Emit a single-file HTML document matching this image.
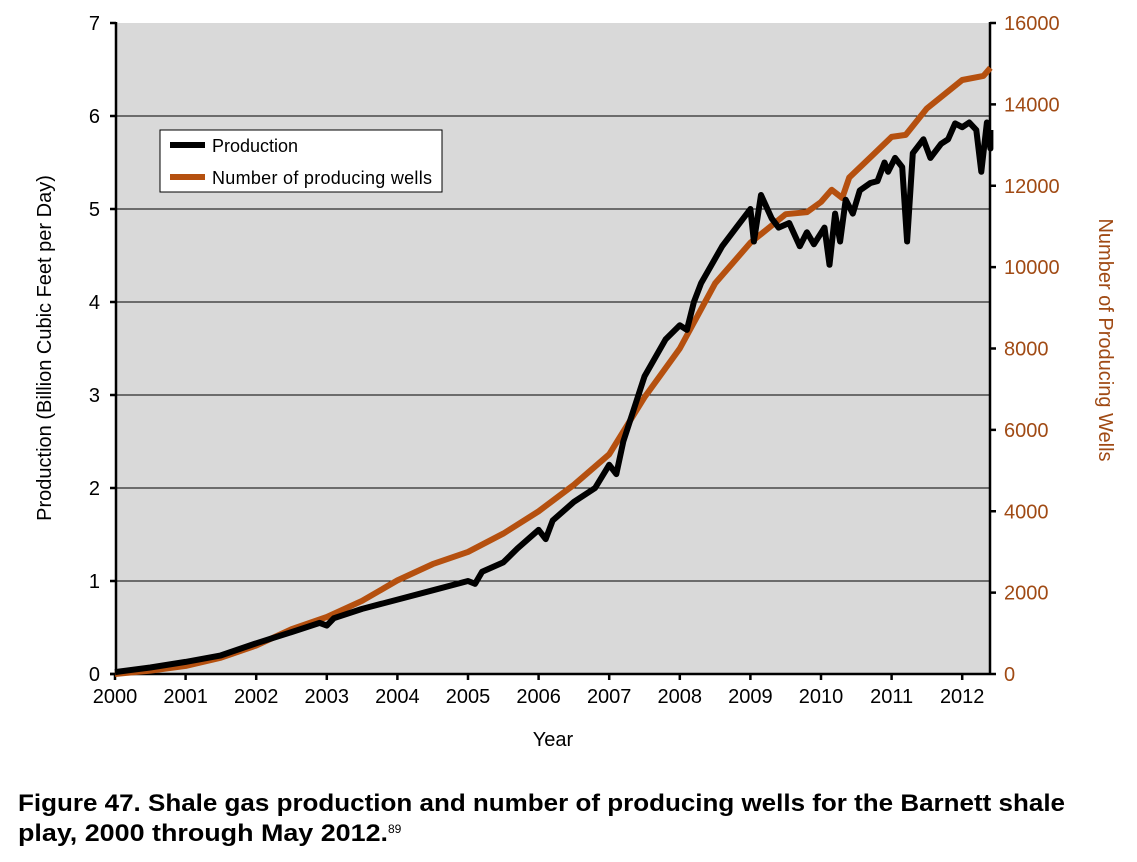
<!DOCTYPE html>
<html><head><meta charset="utf-8"><style>
body{margin:0;background:#fff;width:1137px;height:857px;overflow:hidden}
svg{font-family:"Liberation Sans",sans-serif}
</style></head><body>
<svg id="s" width="1137" height="857" xmlns="http://www.w3.org/2000/svg">
<rect x="116" y="23" width="874" height="651" fill="#d9d9d9"/>
<g id="grid" stroke="#000" stroke-width="1"></g>
<g id="ax" stroke="#000" stroke-width="2.5" fill="none">
<line x1="116" y1="22" x2="116" y2="675"/>
<line x1="990" y1="22" x2="990" y2="675"/>
<line x1="110" y1="674" x2="990" y2="674"/>
</g>
<path id="wells" fill="none" stroke="#b5500f" stroke-width="6" stroke-linejoin="round"/>
<path id="prod" fill="none" stroke="#000" stroke-width="6" stroke-linejoin="round"/>
<g id="lab" font-size="20"></g>
<text transform="translate(51,348) rotate(-90)" font-size="20" text-anchor="middle">Production (Billion Cubic Feet per Day)</text>
<text transform="translate(1099,340) rotate(90)" font-size="20" text-anchor="middle" fill="#a04a14">Number of Producing Wells</text>
<text x="553" y="746" font-size="20" text-anchor="middle">Year</text>
<rect x="160" y="130" width="282" height="62" fill="#fff" stroke="#000" stroke-width="1"/>
<line x1="170" y1="145" x2="205" y2="145" stroke="#000" stroke-width="6"/>
<text x="212" y="152" font-size="18">Production</text>
<line x1="170" y1="177" x2="205" y2="177" stroke="#b5500f" stroke-width="6"/>
<text x="212" y="184" font-size="18" textLength="220">Number of producing wells</text>
<text x="18" y="811" font-size="24" font-weight="bold" textLength="1047" lengthAdjust="spacingAndGlyphs">Figure 47. Shale gas production and number of producing wells for the Barnett shale</text>
<text x="18" y="841" font-size="24" font-weight="bold"><tspan textLength="370" lengthAdjust="spacingAndGlyphs">play, 2000 through May 2012.</tspan><tspan font-size="12" font-weight="normal" dy="-8">89</tspan></text>
</svg>
<script>
var X=t=>115+70.6*(t-2000),Y=v=>674-93*v,W=w=>674-w*651/16000;
var g=document.getElementById('grid'),l=document.getElementById('lab'),a=document.getElementById('ax'),h='',lh='',ah='';
for(var i=1;i<7;i++)h+='<line x1="116" x2="990" y1="'+Y(i)+'" y2="'+Y(i)+'"/>';
g.innerHTML=h;
for(i=0;i<=7;i++){lh+='<text x="100" y="'+(Y(i)+7)+'" text-anchor="end">'+i+'</text>';ah+='<line x1="110" x2="116" y1="'+Y(i)+'" y2="'+Y(i)+'"/>';}
for(i=0;i<=16000;i+=2000){lh+='<text x="1004" y="'+(W(i)+7)+'" fill="#a04a14">'+i+'</text>';ah+='<line x1="990" x2="996" y1="'+W(i)+'" y2="'+W(i)+'"/>';}
for(i=0;i<=12;i++){lh+='<text x="'+X(2000+i)+'" y="703" text-anchor="middle">'+(2000+i)+'</text>';ah+='<line y1="674" y2="680" x1="'+X(2000+i)+'" x2="'+X(2000+i)+'"/>';}
l.innerHTML=lh;a.innerHTML+=ah;
var P=[[2000,0.02],[2000.5,0.07],[2001,0.13],[2001.5,0.2],[2002,0.33],[2002.5,0.45],[2002.9,0.55],[2003,0.52],[2003.1,0.6],[2003.5,0.7],[2004,0.8],[2004.5,0.9],[2005,1.0],[2005.1,0.97],[2005.2,1.1],[2005.5,1.2],[2005.7,1.35],[2006,1.55],[2006.1,1.45],[2006.2,1.65],[2006.5,1.85],[2006.8,2.0],[2007,2.25],[2007.1,2.15],[2007.2,2.5],[2007.5,3.2],[2007.8,3.6],[2008,3.75],[2008.1,3.7],[2008.2,4.0],[2008.3,4.2],[2008.6,4.6],[2008.8,4.8],[2009,5.0],[2009.05,4.65],[2009.15,5.15],[2009.3,4.9],[2009.4,4.8],[2009.55,4.85],[2009.7,4.6],[2009.8,4.75],[2009.9,4.62],[2010.05,4.8],[2010.12,4.4],[2010.2,4.95],[2010.27,4.65],[2010.35,5.1],[2010.45,4.95],[2010.55,5.2],[2010.7,5.28],[2010.8,5.3],[2010.9,5.5],[2010.95,5.4],[2011.05,5.55],[2011.15,5.45],[2011.22,4.65],[2011.3,5.6],[2011.45,5.75],[2011.55,5.55],[2011.7,5.7],[2011.8,5.75],[2011.9,5.92],[2012.0,5.88],[2012.1,5.93],[2012.2,5.85],[2012.27,5.4],[2012.35,5.93],[2012.42,5.65],[2012.5,5.85]];
var Wd=[[2000,0],[2000.5,80],[2001,200],[2001.5,400],[2002,700],[2002.5,1100],[2003,1400],[2003.5,1800],[2004,2300],[2004.5,2700],[2005,3000],[2005.5,3450],[2006,4000],[2006.5,4650],[2007,5400],[2007.5,6800],[2008,8000],[2008.5,9600],[2009,10600],[2009.5,11300],[2009.8,11350],[2010,11600],[2010.15,11900],[2010.3,11700],[2010.4,12200],[2010.7,12700],[2011,13200],[2011.2,13250],[2011.5,13900],[2012,14600],[2012.3,14700],[2012.5,14900]];
document.getElementById('prod').setAttribute('d','M'+P.map(p=>X(Math.min(p[0],2012.4)).toFixed(1)+','+Y(p[1]).toFixed(1)).join('L'));
document.getElementById('wells').setAttribute('d','M'+Wd.map(p=>X(Math.min(p[0],2012.4)).toFixed(1)+','+W(p[1]).toFixed(1)).join('L'));
</script>
</body></html>
